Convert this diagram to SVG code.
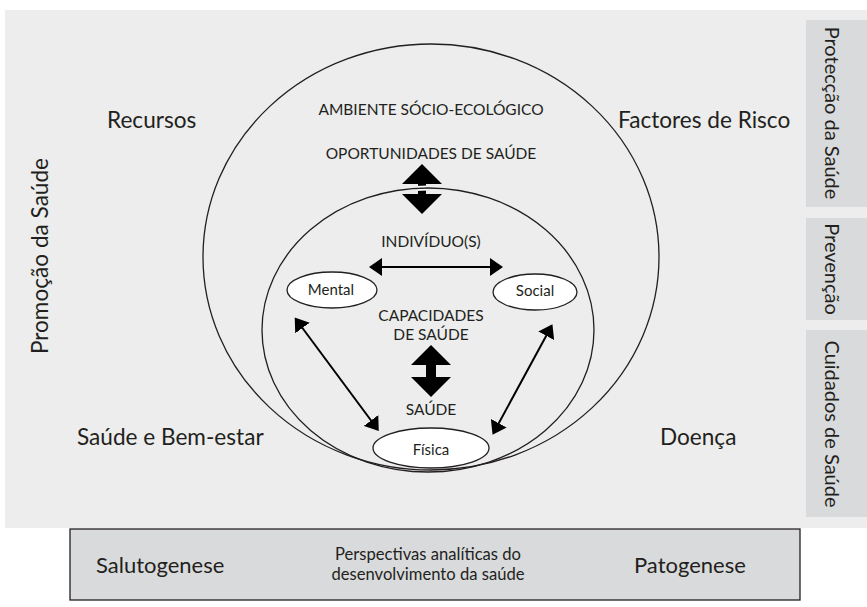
<svg xmlns="http://www.w3.org/2000/svg" width="867" height="607" viewBox="0 0 867 607">
<style>
text{font-family:Lato,"Open Sans","DejaVu Sans",sans-serif;fill:#231f20}
.big{font-size:22.6px}
.cap{font-size:15.5px;text-anchor:middle}
.lab{font-size:15px;text-anchor:middle}
.side{font-size:20px;text-anchor:middle}
.mid{font-size:16.6px;text-anchor:middle}
.bot{font-size:22px}
.ring{fill:none;stroke:#231f20;stroke-width:1.3}
.node{fill:#fff;stroke:#231f20;stroke-width:1.3}
.conn{stroke:#000;stroke-width:2;fill:none}
.bar{fill:#d9dadb}
</style>
<defs>
<marker id="ah" markerUnits="userSpaceOnUse" markerWidth="14" markerHeight="18" viewBox="0 0 14 18" refX="10" refY="9" orient="auto-start-reverse">
<path d="M0,0 L13,9 L0,18 z" fill="#000"/>
</marker>
<clipPath id="arrowclip"><polygon points="422,164 442,184 426,184 426,194 442,194 422,214 402,194 418,194 418,184 402,184"/></clipPath>
</defs>
<rect x="0" y="0" width="867" height="607" fill="#fff"/>
<rect x="5" y="10" width="862" height="518" fill="#ecedec"/>
<g id="bar-proteccao"><rect class="bar" x="806" y="20" width="61" height="187"/><text class="side" transform="translate(825 113) rotate(90)">Protecção da Saúde</text></g>
<g id="bar-prevencao"><rect class="bar" x="806" y="218" width="61" height="102"/><text class="side" transform="translate(825 269) rotate(90)">Prevenção</text></g>
<g id="bar-cuidados"><rect class="bar" x="806" y="330" width="61" height="187"/><text class="side" transform="translate(825 424) rotate(90)">Cuidados de Saúde</text></g>
<g id="outer-ring"><ellipse class="ring" cx="431" cy="257" rx="228" ry="213"/></g>
<g id="big-arrow-top"><polygon points="422,164 442,184 426,184 426,194 442,194 422,214 402,194 418,194 418,184 402,184" fill="#000"/></g>
<g id="inner-ring">
<ellipse cx="428" cy="330" rx="166" ry="142" fill="none" stroke="#fff" stroke-width="5" clip-path="url(#arrowclip)"/>
<ellipse class="ring" cx="428" cy="330" rx="166" ry="142"/>
</g>
<g id="big-arrow-mid"><polygon points="431,345 451,365 436,365 436,377 451,377 431,397 411,377 426,377 426,365 411,365" fill="#000"/></g>
<g id="connectors">
<line class="conn" x1="372" y1="267" x2="500" y2="267" marker-start="url(#ah)" marker-end="url(#ah)"/>
<line class="conn" x1="296.5" y1="320" x2="377" y2="428.5" marker-start="url(#ah)" marker-end="url(#ah)"/>
<line class="conn" x1="551" y1="327" x2="494" y2="432" marker-start="url(#ah)" marker-end="url(#ah)"/>
</g>
<g id="node-mental"><ellipse class="node" cx="332" cy="290" rx="45" ry="18"/><text class="lab" x="331" y="295">Mental</text></g>
<g id="node-social"><ellipse class="node" cx="535" cy="292" rx="42" ry="18"/><text class="lab" x="535" y="296">Social</text></g>
<g id="node-fisica"><ellipse class="node" cx="431" cy="448" rx="58" ry="20"/><text class="lab" x="431" y="455">Física</text></g>
<g id="labels">
<text class="cap" x="431" y="115">AMBIENTE SÓCIO-ECOLÓGICO</text>
<text class="cap" x="431" y="159">OPORTUNIDADES DE SAÚDE</text>
<text class="cap" x="431" y="247">INDIVÍDUO(S)</text>
<text class="cap" x="431" y="321">CAPACIDADES</text>
<text class="cap" x="431" y="340">DE SAÚDE</text>
<text class="cap" x="431" y="415">SAÚDE</text>
<text class="big" x="107" y="128">Recursos</text>
<text class="big" x="618" y="128">Factores de Risco</text>
<text class="big" x="77" y="445">Saúde e Bem-estar</text>
<text class="big" x="660" y="445">Doença</text>
<text class="big" text-anchor="middle" transform="translate(48 256) rotate(-90)">Promoção da Saúde</text>
</g>
<g id="bottom-box">
<rect x="70" y="529" width="730" height="71" fill="#d9dadb" stroke="#231f20" stroke-width="1.3"/>
<text class="bot" x="96" y="573">Salutogenese</text>
<text class="mid" x="428" y="560">Perspectivas analíticas do</text>
<text class="mid" x="428" y="580">desenvolvimento da saúde</text>
<text class="bot" x="634" y="573">Patogenese</text>
</g>
</svg>
